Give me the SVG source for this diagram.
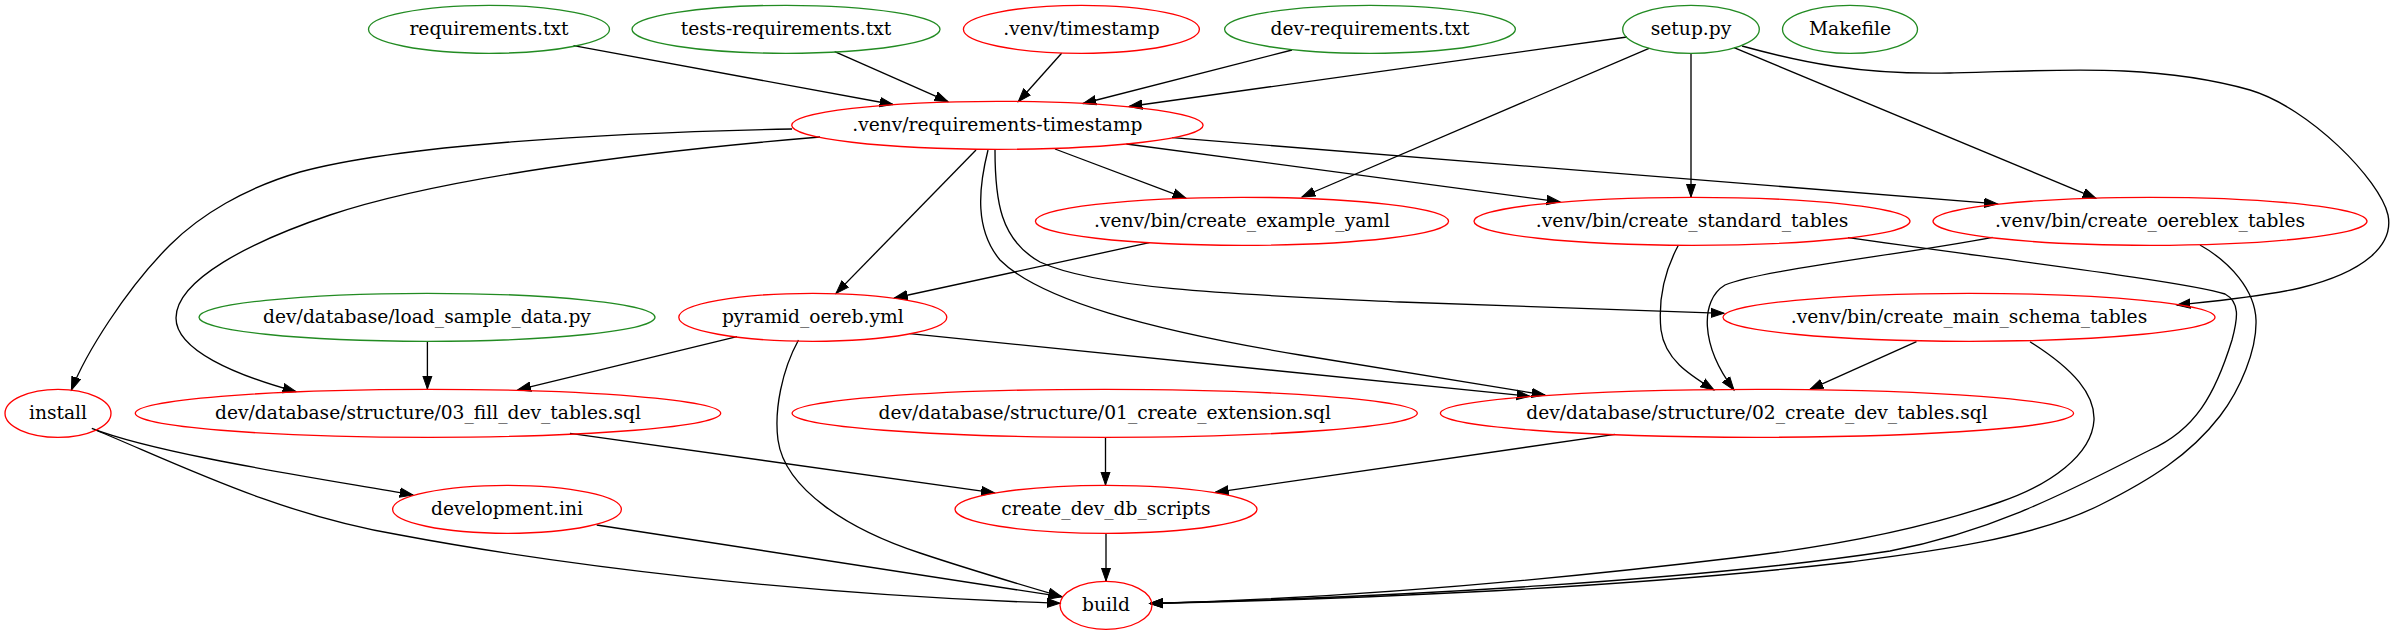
<svg xmlns="http://www.w3.org/2000/svg" width="2394" height="635" viewBox="0 0 2394 635">
<style>
.g ellipse{fill:none;stroke:#228b22;stroke-width:1.33}
.r ellipse{fill:none;stroke:#ff0000;stroke-width:1.33}
text{font-family:"DejaVu Serif","Liberation Serif",serif;font-size:18.67px;fill:#000;text-anchor:middle}
#edges path{fill:none;stroke:#000;stroke-width:1.33;marker-end:url(#ah)}
</style>
<defs>
<marker id="ah" markerUnits="userSpaceOnUse" markerWidth="16" markerHeight="12" refX="13.33" refY="0" viewBox="0 -6 16 12" orient="auto">
<path d="M0,-4.67 L13.33,0 L0,4.67 z" fill="#000" stroke="#000" stroke-width="1"/>
</marker>
</defs>
<rect width="2394" height="635" fill="#fff"/>
<g id="edges">
<path d="M573.5,45.7 L893,104.5"/>
<path d="M834.7,51.7 L948,101.7"/>
<path d="M1061.6,53.3 L1018.3,101.7"/>
<path d="M1292,50 L1083,103.5"/>
<path d="M1627,37 L1129,106.5"/>
<path d="M1649,48.3 L1302,197"/>
<path d="M1691,53.3 L1691,197"/>
<path d="M1734,47.7 L2096,198.3"/>
<path d="M1742,46 C1800,62 1860,75 1950,73 C2050,71 2150,62 2250,90 C2310,108 2380,180 2388,215 C2394,245 2365,272 2300,288 C2260,297 2215,301 2177,305"/>
<path d="M792,129 C600,133 400,145 300,172 C245,188 200,215 170,245 C125,290 85,355 71.4,390"/>
<path d="M820,137 C640,152 440,178 330,215 C250,242 176,280 176,318 C176,350 235,375 296,391.7"/>
<path d="M976,150 L836,293.4"/>
<path d="M988,150 C978,190 975,230 1000,260 C1040,300 1150,330 1300,355 C1400,372 1480,385 1545,395"/>
<path d="M995,150 C995,200 1000,240 1040,262 C1100,290 1250,295 1400,302 C1550,308 1650,311 1724,313.3"/>
<path d="M1055,149 L1186,198.3"/>
<path d="M1126.4,144 L1560,201.9"/>
<path d="M1172.3,137.7 L1997.5,203.9"/>
<path d="M1149.4,242.7 L894.4,298"/>
<path d="M1678.5,245 C1665,270 1658,300 1661,330 C1665,360 1690,375 1714,390"/>
<path d="M1848,237.7 C1990,258 2190,282 2225,294 C2240,302 2238,318 2232,340 C2215,395 2195,430 2150,450 C2080,485 2000,530 1890,551 C1700,580 1400,597 1150,603.5"/>
<path d="M1992.5,237.3 C1900,255 1760,270 1725,285 C1700,300 1700,345 1734,390"/>
<path d="M2200,245 C2230,262 2255,290 2256,320 C2257,350 2240,390 2220,416 C2190,455 2150,480 2100,505 C2030,540 1920,553 1850,562 C1650,585 1400,598 1150,603.5"/>
<path d="M1916.5,341.7 L1810,389.3"/>
<path d="M2030,341.7 C2075,370 2095,395 2094,420 C2092,455 2050,485 2000,502 C1920,530 1820,548 1733,558 C1550,580 1350,598 1150,603.5"/>
<path d="M427.4,341.7 L427.4,389"/>
<path d="M737,336.7 L517.7,389.8"/>
<path d="M909.7,333.6 L1530,396.3"/>
<path d="M798.5,340 C782,370 774,410 778,440 C785,490 850,530 920,553 C965,568 1015,583 1061.7,596.7"/>
<path d="M91.8,428.3 C160,455 330,480 413,495"/>
<path d="M95.6,430 C180,465 280,515 400,535 C560,565 800,595 1060,603.3"/>
<path d="M570,433.3 L994.5,492.8"/>
<path d="M1105.5,437.7 L1105.5,485"/>
<path d="M1615,434.3 L1215.2,492.4"/>
<path d="M596.7,525 L1061.7,596.7"/>
<path d="M1106,533 L1106,581"/>
</g>
<g id="n_requirements" class="g"><ellipse cx="489" cy="29.3" rx="120.5" ry="24"/><text x="489" y="35">requirements.txt</text></g>
<g id="n_tests_requirements" class="g"><ellipse cx="786" cy="29.3" rx="154" ry="24"/><text x="786" y="35">tests-requirements.txt</text></g>
<g id="n_venv_timestamp" class="r"><ellipse cx="1081.4" cy="29.3" rx="118" ry="24"/><text x="1081.4" y="35">.venv/timestamp</text></g>
<g id="n_dev_requirements" class="g"><ellipse cx="1370" cy="29.3" rx="145.4" ry="24"/><text x="1370" y="35">dev-requirements.txt</text></g>
<g id="n_setup" class="g"><ellipse cx="1691" cy="29.3" rx="68.3" ry="24"/><text x="1691" y="35">setup.py</text></g>
<g id="n_makefile" class="g"><ellipse cx="1850" cy="29.3" rx="67.5" ry="24"/><text x="1850" y="35">Makefile</text></g>
<g id="n_req_timestamp" class="r"><ellipse cx="997.4" cy="125.3" rx="205.7" ry="24"/><text x="997.4" y="131">.venv/requirements-timestamp</text></g>
<g id="n_create_example_yaml" class="r"><ellipse cx="1242" cy="221.3" rx="206.6" ry="24"/><text x="1242" y="227">.venv/bin/create_example_yaml</text></g>
<g id="n_create_standard_tables" class="r"><ellipse cx="1692" cy="221.3" rx="218" ry="24"/><text x="1692" y="227">.venv/bin/create_standard_tables</text></g>
<g id="n_create_oereblex_tables" class="r"><ellipse cx="2150" cy="221.3" rx="217" ry="24"/><text x="2150" y="227">.venv/bin/create_oereblex_tables</text></g>
<g id="n_load_sample_data" class="g"><ellipse cx="427" cy="317.3" rx="228" ry="24"/><text x="427" y="323">dev/database/load_sample_data.py</text></g>
<g id="n_pyramid_oereb" class="r"><ellipse cx="812.8" cy="317.3" rx="134" ry="24"/><text x="812.8" y="323">pyramid_oereb.yml</text></g>
<g id="n_create_main_schema_tables" class="r"><ellipse cx="1969" cy="317.3" rx="246" ry="24"/><text x="1969" y="323">.venv/bin/create_main_schema_tables</text></g>
<g id="n_install" class="r"><ellipse cx="58" cy="413.3" rx="53" ry="24"/><text x="58" y="419">install</text></g>
<g id="n_fill_dev_tables" class="r"><ellipse cx="428" cy="413.3" rx="292.7" ry="24"/><text x="428" y="419">dev/database/structure/03_fill_dev_tables.sql</text></g>
<g id="n_create_extension" class="r"><ellipse cx="1104.7" cy="413.3" rx="312.6" ry="24"/><text x="1104.7" y="419">dev/database/structure/01_create_extension.sql</text></g>
<g id="n_create_dev_tables" class="r"><ellipse cx="1757" cy="413.3" rx="316.6" ry="24"/><text x="1757" y="419">dev/database/structure/02_create_dev_tables.sql</text></g>
<g id="n_development_ini" class="r"><ellipse cx="507" cy="509.3" rx="114.4" ry="24"/><text x="507" y="515">development.ini</text></g>
<g id="n_create_dev_db_scripts" class="r"><ellipse cx="1106" cy="509.3" rx="151" ry="24"/><text x="1106" y="515">create_dev_db_scripts</text></g>
<g id="n_build" class="r"><ellipse cx="1106" cy="605.3" rx="46" ry="24"/><text x="1106" y="611">build</text></g>
</svg>
